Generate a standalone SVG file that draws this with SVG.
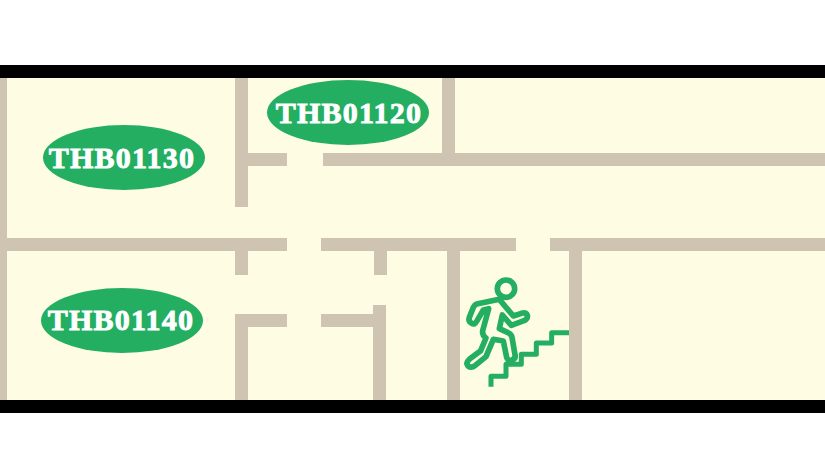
<svg xmlns="http://www.w3.org/2000/svg" width="825" height="475" viewBox="0 0 825 475">
<style>
.wall{fill:#cfc3b2}
.bar{fill:#000}
.tag{fill:#23ae62}
.lbl{fill:#fff;stroke:#fff;stroke-width:.9;font-family:"Liberation Serif",serif;font-weight:700;font-size:30px;letter-spacing:1.2px;text-anchor:middle}
.ico{fill:none;stroke:#23ae62;stroke-width:17;stroke-linejoin:round}
</style>
<rect width="825" height="475" fill="#fff"/>
<rect y="78" width="825" height="322" fill="#fefce3"/>
<g id="walls">
<rect class="wall" x="0" y="78" width="7" height="322"/>
<rect class="wall" x="235" y="78" width="13" height="129"/>
<rect class="wall" x="248" y="153" width="39" height="13"/>
<rect class="wall" x="442" y="78" width="13" height="75"/>
<rect class="wall" x="323" y="153" width="502" height="13"/>
<rect class="wall" x="0" y="238" width="287" height="13"/>
<rect class="wall" x="321" y="238" width="195" height="13"/>
<rect class="wall" x="550" y="238" width="275" height="13"/>
<rect class="wall" x="235" y="251" width="13" height="24"/>
<rect class="wall" x="374" y="251" width="13" height="24"/>
<rect class="wall" x="235" y="314" width="13" height="86"/>
<rect class="wall" x="248" y="314" width="39" height="13"/>
<rect class="wall" x="321" y="314" width="52" height="13"/>
<rect class="wall" x="373" y="305" width="13" height="95"/>
<rect class="wall" x="447" y="251" width="13" height="149"/>
<rect class="wall" x="569" y="251" width="13" height="149"/>
</g>
<rect class="bar" y="65" width="825" height="13"/>
<rect class="bar" y="400" width="825" height="13"/>
<g id="THB01130"><ellipse class="tag" cx="124" cy="157.5" rx="81" ry="32.5"/><text class="lbl" x="122" y="168">THB01130</text></g>
<g id="THB01120"><ellipse class="tag" cx="348" cy="112.5" rx="81" ry="32.5"/><text class="lbl" x="349" y="123">THB01120</text></g>
<g id="THB01140"><ellipse class="tag" cx="122" cy="320.5" rx="81" ry="32.5"/><text class="lbl" x="121" y="330">THB01140</text></g>
<g id="exit" transform="translate(440 260) scale(.3333)">
<circle class="ico" cx="198" cy="86" r="26"/>
<path class="ico" d="M178 118L110 132Q104 134 100 142L88 172Q84 184 95 190Q104 196 110 184L130 150L146 146L128 212Q126 226 138 234L122 272L88 298Q76 308 84 318Q94 326 106 316L138 290L160 238L190 243L200 292Q204 304 216 300Q228 296 225 284L216 232Q214 222 204 218L178 206L187 165L214 196L252 182Q264 176 262 166Q258 156 244 160L220 168Z"/>
<path class="ico" style="stroke-width:15" d="M153 380V349H198V313H244V283H289V249H335V218H387"/>
</g>
</svg>
